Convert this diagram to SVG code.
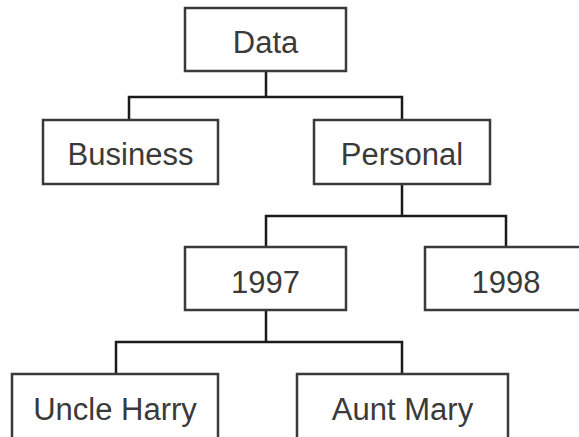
<svg xmlns="http://www.w3.org/2000/svg" width="579" height="437" viewBox="0 0 579 437">
<style>
.box{fill:#fff;stroke:#3a3a3a;stroke-width:2.5}
.lbl{font-family:"Liberation Sans",Arial,sans-serif;font-size:31px;fill:#3a3a3a;text-anchor:middle}
.con{fill:none;stroke:#1a1a1a;stroke-width:2.5}
</style>
<rect width="579" height="437" fill="#fff"/>
<g id="connectors">
<path class="con" d="M266 71V97M129 120V97H402V120"/>
<path class="con" d="M402 184V216M266 247V216H506V247"/>
<path class="con" d="M266 310V342M116 374V342H402V374"/>
</g>
<g id="data"><rect class="box" x="185" y="8" width="161" height="63"/><text class="lbl" x="265.5" y="53">Data</text></g>
<g id="business"><rect class="box" x="43" y="120" width="175" height="64"/><text class="lbl" x="130.5" y="165">Business</text></g>
<g id="personal"><rect class="box" x="314" y="120" width="176" height="64"/><text class="lbl" x="402" y="165">Personal</text></g>
<g id="y1997"><rect class="box" x="185" y="247" width="161" height="63"/><text class="lbl" x="265.5" y="293">1997</text></g>
<g id="y1998"><rect class="box" x="425" y="247" width="170" height="63"/><text class="lbl" x="506" y="293">1998</text></g>
<g id="uncle"><rect class="box" x="12" y="374" width="206" height="80"/><text class="lbl" x="115" y="420">Uncle Harry</text></g>
<g id="aunt"><rect class="box" x="297" y="374" width="211" height="80"/><text class="lbl" x="402.5" y="420">Aunt Mary</text></g>
</svg>
